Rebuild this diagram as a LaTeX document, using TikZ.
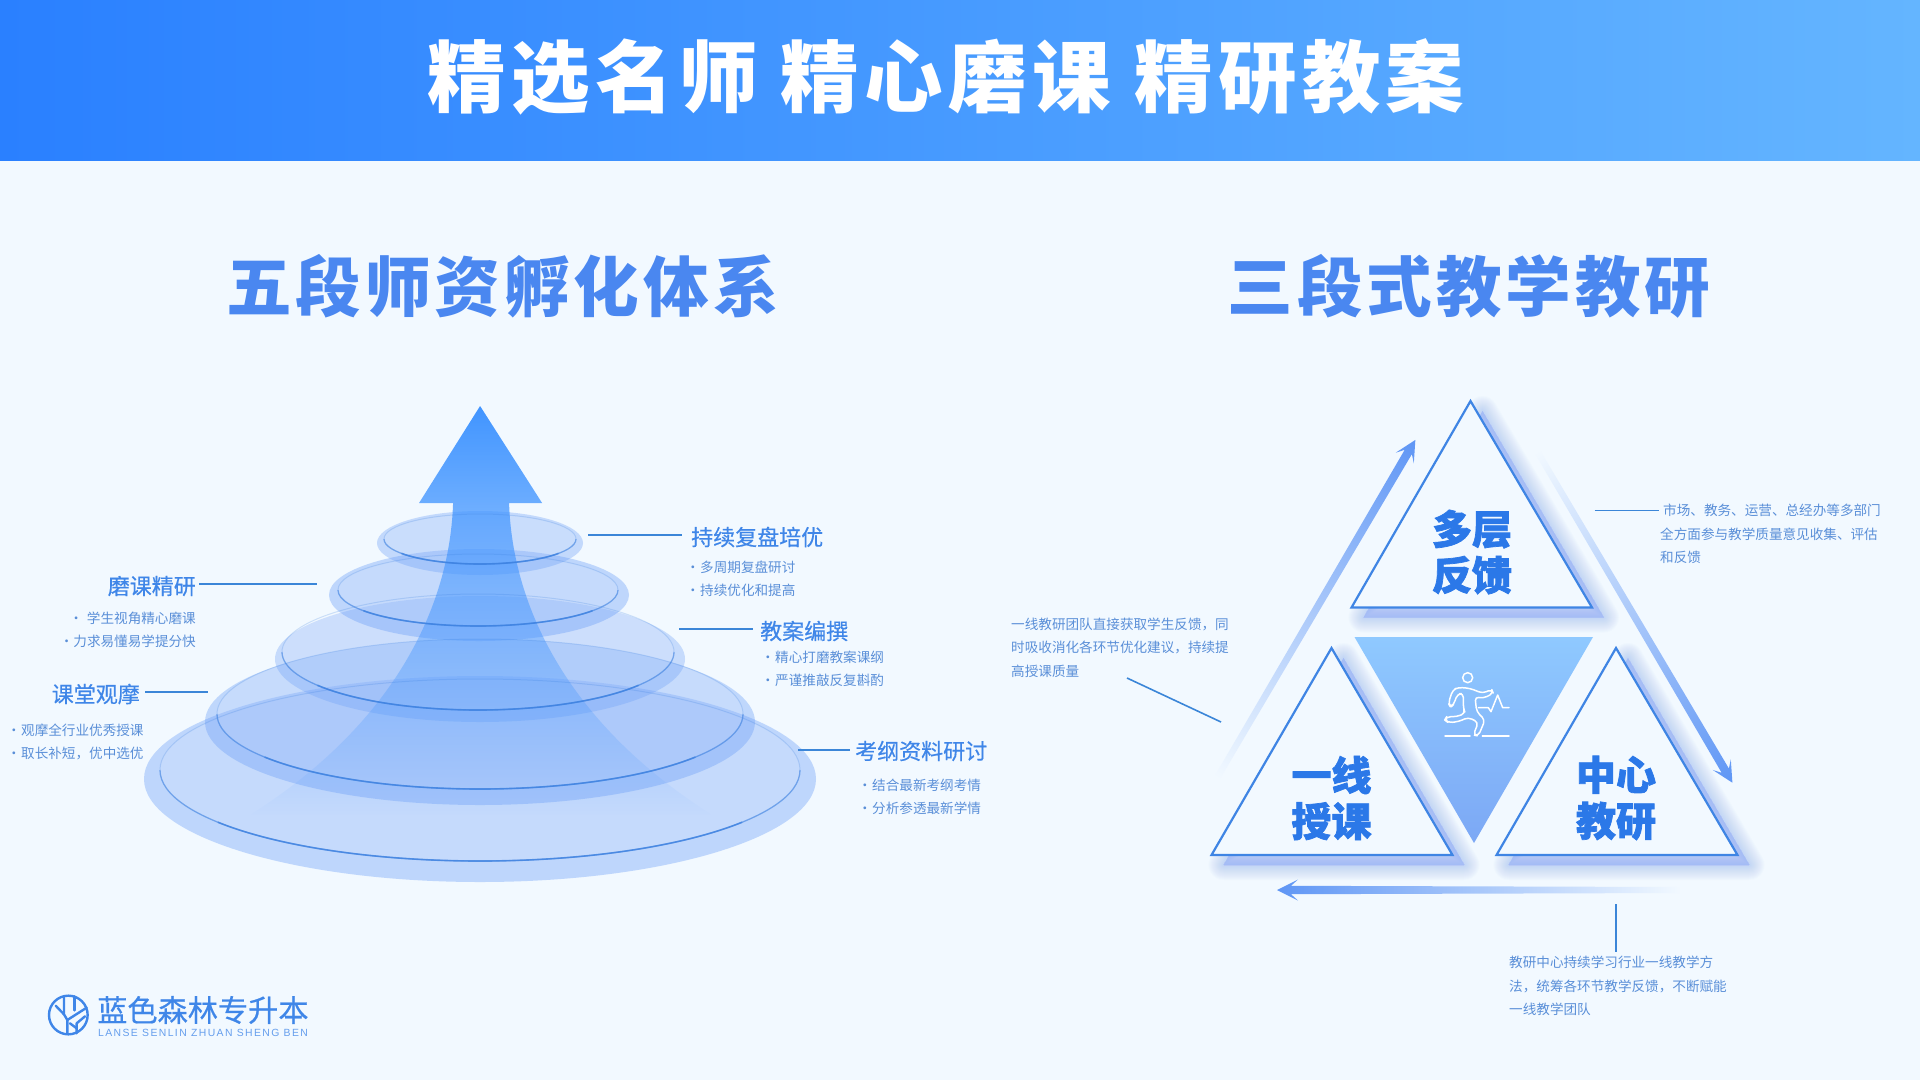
\documentclass[tikz,border=0pt]{standalone}
\usepackage{fontspec}
\usetikzlibrary{fadings}
\newfontfamily\cjk{Noto Sans CJK SC}
\newfontfamily\cjkm{Noto Sans CJK SC}[FakeBold=0.5]
\newfontfamily\cjktitle{Noto Sans CJK SC}[LetterSpace=6.8]
\newfontfamily\cjksub{Noto Sans CJK SC}[LetterSpace=6]
\newfontfamily\cjkh{Noto Sans CJK SC}[BoldFeatures={FakeBold=1.8}]
\newfontfamily\latinlogo{Liberation Sans}[LetterSpace=13.5]
\definecolor{pagebg}{HTML}{F2F9FF}
\definecolor{hleft}{HTML}{2A80FF}
\definecolor{hright}{HTML}{64B5FF}
\definecolor{headc}{HTML}{4A87F0}
\definecolor{labelc}{HTML}{3F86E8}
\definecolor{smallc}{HTML}{5A8FD8}
\definecolor{linec}{HTML}{3B86D8}
\definecolor{triline}{HTML}{3F85E4}
\definecolor{trilabel}{HTML}{2B78E8}
\definecolor{halo}{HTML}{6A9EF8}
\definecolor{shadowc}{HTML}{6D97F5}
\definecolor{rimc}{HTML}{3B80E0}
\definecolor{arrowc}{HTML}{5F96F5}
\definecolor{arrmida}{HTML}{A9C6FB}
\definecolor{arrmidb}{HTML}{C3D8FC}
\definecolor{arrmidc}{HTML}{B7D0FB}
\definecolor{invtop}{HTML}{8FC9FF}
\definecolor{invbot}{HTML}{7CA8F5}
\tikzfading[name=arrowfade, top color=transparent!0, middle color=transparent!62, bottom color=transparent!100]
\tikzset{
  labeltext/.style={inner sep=0pt,text=labelc,font=\cjkm\fontsize{22}{26}\selectfont},
  itemtext/.style={inner sep=0pt,text=smallc,font=\cjk\fontsize{13.6}{23.6}\selectfont},
  paratext/.style={inner sep=0pt,text=smallc,align=left,font=\cjk\fontsize{13.6}{23.4}\selectfont},
  trilab/.style={inner sep=0pt,text=trilabel,align=center,font=\cjkh\bfseries\fontsize{40}{46}\selectfont},
  conn/.style={draw=linec,line width=1.6pt},
  triangleline/.style={draw=triline,line width=2.2pt,fill=pagebg,line join=miter},
}
\newcommand\softshadow[3]{%
  \begin{scope}[transform canvas={shift={(12,10)}}]
    \foreach \w in {2,4,...,30}{
      \draw[draw=shadowc,fill=shadowc,line width=\w pt,line join=round,opacity=.024] #1 -- #2 -- #3 -- cycle;
    }
  \end{scope}}
\newcommand\ringlayer[9]{% cx cy rx ry inner cx, cy, rx, ry, fillop
  \fill[halo,opacity=#9] (#1,#2) ellipse [x radius=#3,y radius=#4];
  \fill[white,opacity=.11] (#5,#6) ellipse [x radius=#7,y radius=#8];
}
\newcommand\ringrim[4]{%
  \draw[rimc,opacity=.22,line width=1pt] (#1,#2) ellipse [x radius=#3,y radius=#4];
  \draw[rimc,opacity=.5,line width=1.3pt] (#1,#2) ++(180:#3 and #4) arc [start angle=180,end angle=0,x radius=#3,y radius=#4];
  \draw[rimc,opacity=.7,line width=1.6pt] (#1,#2) ++(145:#3 and #4) arc [start angle=145,end angle=35,x radius=#3,y radius=#4];
}
\newcommand\gradarrow[7]{% x y angle length tailcolor midcolor tipcolor
  \begin{scope}[transform canvas={shift={(#1,#2)},rotate=#3}]
    \shade[left color=#5,middle color=#6,right color=#7] (0,-3) -- ({#4-14},-4.2) -- ({#4-21},-10.5) -- (#4,0) -- ({#4-21},10.5) -- ({#4-14},4.2) -- (0,3) -- cycle;
  \end{scope}}
\begin{document}
\begin{tikzpicture}[x=1pt,y=-1pt]
\path[use as bounding box,fill=pagebg] (0,0) rectangle (1920,1080);
\shade[left color=hleft,right color=hright] (0,0) rectangle (1920,160);
\node[inner sep=0pt,text=white,font=\cjktitle\bfseries\fontsize{78.5}{80}\selectfont] (title) at (946,77) {精选名师 精心磨课 精研教案};
\node[inner sep=0pt,text=headc,font=\cjksub\bfseries\fontsize{65.6}{70}\selectfont] (headl) at (502.5,286) {五段师资孵化体系};
\node[inner sep=0pt,text=headc,font=\cjksub\bfseries\fontsize{65.6}{70}\selectfont] (headr) at (1469,286) {三段式教学教研};

% pyramid layers
\ringlayer{480}{779}{336}{103}{480}{770}{320}{91}{.38}
\ringlayer{480}{722}{275}{83}{480}{714}{263}{75}{.37}
\ringlayer{480}{659}{205}{63}{478}{652}{196}{58}{.32}
\ringlayer{479}{595}{150}{46}{478}{590}{140}{36}{.38}
\ringlayer{480}{543}{103}{32}{480}{539}{96}{25}{.34}
% arrow
\fill[color=hleft!60!hright,path fading=arrowfade] (480,406) -- (542,503) -- (509,503) .. controls (512,600) and (562,720) .. (712,815) -- (250,815) .. controls (400,720) and (450,600) .. (453,503) -- (419,503) -- cycle;
\ringrim{480}{770}{320}{91}
\ringrim{480}{714}{263}{75}
\ringrim{478}{652}{196}{58}
\ringrim{478}{590}{140}{36}
\ringrim{480}{539}{96}{25}

% left labels
\coordinate (c1a) at (588,535); \coordinate (c1b) at (682,535);
\draw[conn] (c1a) -- (c1b);
\node[labeltext,anchor=west] (l1) at (691,537) {持续复盘培优};
\node[itemtext,anchor=north west,align=left] (i1) at (686,560.5) {\makebox[14pt][l]{·}多周期复盘研讨\\\makebox[14pt][l]{·}持续优化和提高};
\coordinate (c2a) at (679,629); \coordinate (c2b) at (753,629);
\draw[conn] (c2a) -- (c2b);
\node[labeltext,anchor=west] (l2) at (760,631) {教案编撰};
\node[itemtext,anchor=north west,align=left] (i2) at (761,650.5) {\makebox[14pt][l]{·}精心打磨教案课纲\\\makebox[14pt][l]{·}严谨推敲反复斟酌};
\coordinate (c3a) at (798,750); \coordinate (c3b) at (850,750);
\draw[conn] (c3a) -- (c3b);
\node[labeltext,anchor=west] (l3) at (855,751) {考纲资料研讨};
\node[itemtext,anchor=north west,align=left] (i3) at (858,778.5) {\makebox[14pt][l]{·}结合最新考纲考情\\\makebox[14pt][l]{·}分析参透最新学情};
\coordinate (c4a) at (199,584); \coordinate (c4b) at (317,584);
\draw[conn] (c4a) -- (c4b);
\node[labeltext,anchor=east] (l4) at (196,586) {磨课精研};
\node[itemtext,anchor=north east,align=right] (i4) at (196,611.5) {·\hspace{4pt}学生视角精心磨课\\·力求易懂易学提分快};
\coordinate (c5a) at (145,692); \coordinate (c5b) at (208,692);
\draw[conn] (c5a) -- (c5b);
\node[labeltext,anchor=east] (l5) at (140,694) {课堂观摩};
\node[itemtext,anchor=north west,align=left] (i5) at (7,723.5) {\makebox[14pt][l]{·}观摩全行业优秀授课\\\makebox[14pt][l]{·}取长补短，优中选优};

% triangles
\coordinate (ta) at (1470.5,401); \coordinate (tb) at (1351.5,607.5); \coordinate (tc) at (1592,607.5);
\coordinate (la) at (1331.5,648); \coordinate (lb) at (1211.5,855); \coordinate (lc) at (1452.5,855);
\coordinate (ra) at (1616,648); \coordinate (rb) at (1496.5,855); \coordinate (rc) at (1737.5,855);
\softshadow{(ta)}{(tb)}{(tc)}
\softshadow{(la)}{(lb)}{(lc)}
\softshadow{(ra)}{(rb)}{(rc)}
\shade[top color=invtop,bottom color=invbot] (1354.5,637) -- (1593,637) -- (1474,843) -- cycle;
\draw[triangleline] (ta) -- (tb) -- (tc) -- cycle;
\draw[triangleline] (la) -- (lb) -- (lc) -- cycle;
\draw[triangleline] (ra) -- (rb) -- (rc) -- cycle;
\node[trilab] (t1) at (1472,552) {多层\\反馈};
\node[trilab] (t2) at (1331.5,798) {一线\\授课};
\node[trilab] (t3) at (1616,798) {中心\\教研};

% runner
\begin{scope}[shift={(1430,660)},x=.3333pt,y=-.3333pt,draw=white,line width=1.5pt,line join=round,line cap=round]
  \draw (113,53) circle [radius=15];
  \draw[rounded corners=4pt] (185,88) -- (158,100) -- (120,85) -- (85,82) -- (68,90) -- (55,130) -- (62,142) -- (72,132) -- (82,102) -- (100,100) -- (100,145) -- (106,160) -- (80,170) -- (50,170) -- (44,180) -- (55,188) -- (85,185) -- (115,172) -- (145,187) -- (130,225) -- (145,228) -- (165,180) -- (140,155) -- (135,110) -- (160,115) -- (190,100) -- cycle;
  \draw (145,143) -- (175,143) -- (183,155) -- (203,105) -- (218,143) -- (237,143);
  \draw (45,228) -- (120,228);
  \draw (157,228) -- (237,228);
\end{scope}

% cycle arrows
\gradarrow{1217}{778}{59.6}{392}{pagebg}{arrmida}{arrowc}
\gradarrow{1537}{451}{-59.5}{385}{pagebg}{arrmidb}{arrowc}
\gradarrow{1681}{890}{180}{404}{pagebg}{arrmidc}{arrowc}

% para texts
\node[paratext,anchor=north west] (p1) at (1011,617.5) {一线教研团队直接获取学生反馈，同\\时吸收消化各环节优化建议，持续提\\高授课质量};
\coordinate (pc1a) at (1127,678); \coordinate (pc1b) at (1221,722);
\draw[conn] (pc1a) -- (pc1b);
\coordinate (pc2a) at (1594.5,510.5); \coordinate (pc2b) at (1659,510.5);
\draw[conn] (pc2a) -- (pc2b);
\node[paratext,anchor=north west] (p2) at (1660,504) {\hspace{3pt}市场、教务、运营、总经办等多部门\\全方面参与教学质量意见收集、评估\\和反馈};
\coordinate (pc3a) at (1616,904); \coordinate (pc3b) at (1616,952);
\draw[conn] (pc3a) -- (pc3b);
\node[paratext,anchor=north west] (p3) at (1509,956) {教研中心持续学习行业一线教学方\\法，统筹各环节教学反馈，不断赋能\\一线教学团队};

% logo
\begin{scope}[shift={(40,985)},x=.3333pt,y=-.3333pt,draw=labelc,line width=2.4pt,line cap=round,line join=round]
  \draw (85,90) circle [radius=58];
  \draw (72,34) -- (72,88) -- (82,105) -- (82,145);
  \draw (104,34) -- (104,76);
  \draw (140,68) -- (82,105);
  \draw (47,62) -- (72,88);
  \draw (135,94) -- (110,115) -- (110,145);
  \draw (90,115) -- (110,130);
\end{scope}
\node[inner sep=0pt,anchor=west,text=labelc,font=\cjkm\fontsize{30.2}{32}\selectfont] (logo) at (97,1010) {蓝色森林专升本};
\node[inner sep=0pt,anchor=west,text=labelc!80!white,font=\latinlogo\fontsize{10.4}{12}\selectfont] (logosub) at (98,1033) {LANSE SENLIN ZHUAN SHENG BEN};
\end{tikzpicture}
\end{document}
